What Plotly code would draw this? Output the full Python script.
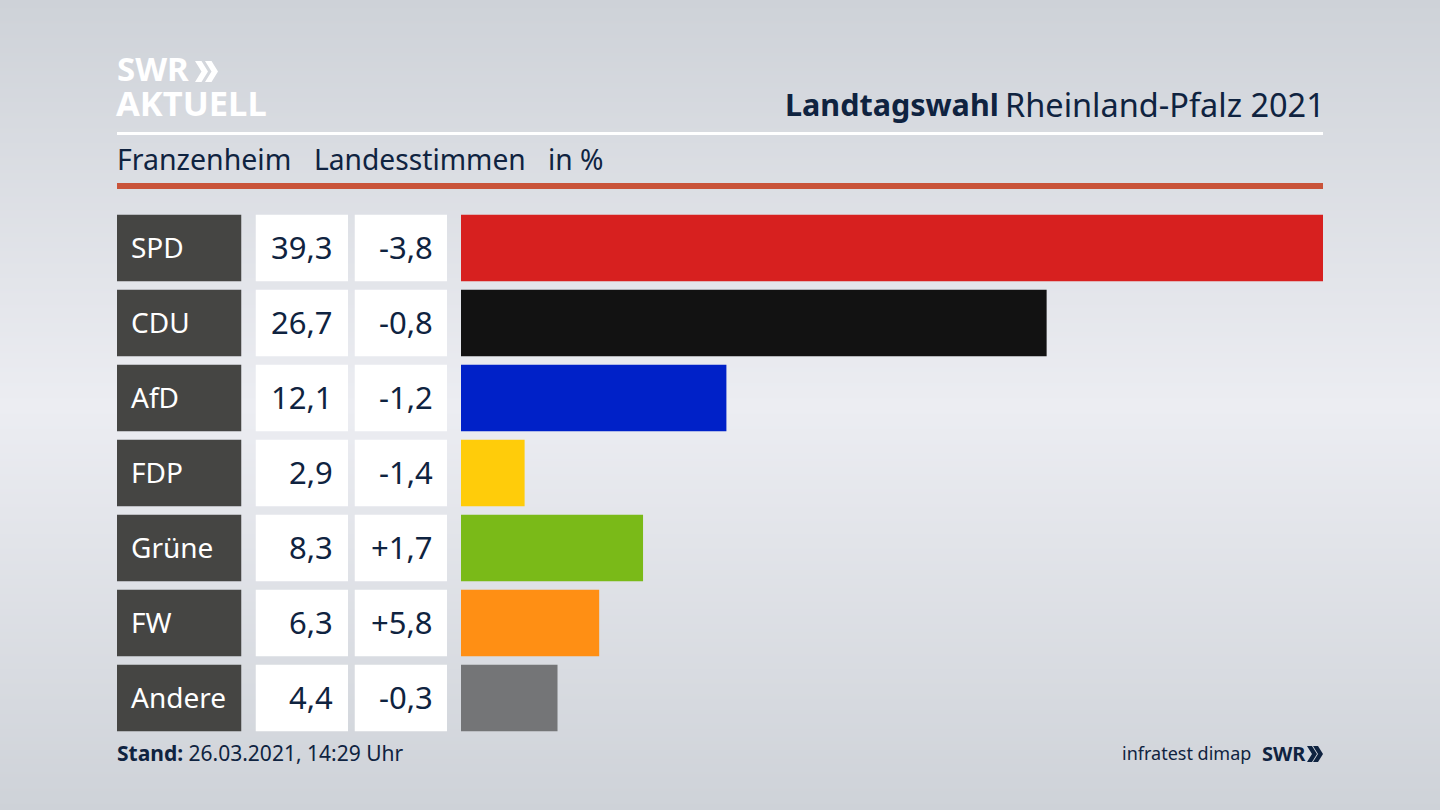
import plotly.graph_objects as go

WIDTH = 1440
HEIGHT = 810
TEXT_COLOR = "#0f2340"
FONT = "Noto Sans"

parties = ["SPD", "CDU", "AfD", "FDP", "Grüne", "FW", "Andere"]
shares = [39.3, 26.7, 12.1, 2.9, 8.3, 6.3, 4.4]
changes = [-3.8, -0.8, -1.2, -1.4, 1.7, 5.8, -0.3]
bar_colors = ["#d7201f", "#121212", "#0021c8", "#ffcc0a", "#7aba18", "#ff8f14", "#747577"]

# vertical backdrop: dark at the edges, bright around the middle
backdrop = [[0, 0], [1, 1], [0, 0]]


def px_x(x):
    return x / WIDTH


def px_y(y):
    return 1 - y / HEIGHT


def comma(value, signed=False):
    text = f"{value:+.1f}" if signed else f"{value:.1f}"
    return text.replace(".", ",")


fig = go.Figure()

# background sits on the first axis pair so everything else draws over it
fig.add_trace(go.Heatmap(
    z=backdrop,
    zsmooth="best",
    colorscale=[[0, "#ced2d8"], [1, "#ecedf2"]],
    zmin=0,
    zmax=1,
    showscale=False,
    hoverinfo="skip",
    xaxis="x",
    yaxis="y",
))

# label column, two number columns, then the result bars
fig.add_trace(go.Bar(y=parties, x=[1] * 7, orientation="h", width=0.887,
                     marker=dict(color="#454543", line_width=0), xaxis="x2", yaxis="y2", hoverinfo="skip"))
fig.add_trace(go.Bar(y=parties, x=[1] * 7, orientation="h", width=0.887,
                     marker=dict(color="#ffffff", line_width=0), xaxis="x3", yaxis="y2", hoverinfo="skip"))
fig.add_trace(go.Bar(y=parties, x=[1] * 7, orientation="h", width=0.887,
                     marker=dict(color="#ffffff", line_width=0), xaxis="x4", yaxis="y2", hoverinfo="skip"))
fig.add_trace(go.Bar(y=parties, x=shares, orientation="h", width=0.887,
                     marker=dict(color=bar_colors, line_width=0), xaxis="x5", yaxis="y2"))

hidden = dict(visible=False, fixedrange=True)
fig.update_layout(
    width=WIDTH,
    height=HEIGHT,
    autosize=False,
    margin=dict(l=0, r=0, t=0, b=0),
    paper_bgcolor="#dfe1e6",
    plot_bgcolor="rgba(0,0,0,0)",
    showlegend=False,
    font=dict(family=FONT, color=TEXT_COLOR),
    xaxis=dict(domain=[0, 1], range=[0, 1], **hidden),
    yaxis=dict(domain=[0, 1], range=[2, 0], **hidden),
    xaxis2=dict(domain=[px_x(117), px_x(241.5)], range=[0, 1], anchor="y2", **hidden),
    xaxis3=dict(domain=[px_x(255.5), px_x(348)], range=[0, 1], anchor="y2", **hidden),
    xaxis4=dict(domain=[px_x(354.5), px_x(447)], range=[0, 1], anchor="y2", **hidden),
    xaxis5=dict(domain=[px_x(461), px_x(1323)], range=[0, shares[0]], anchor="y2", **hidden),
    yaxis2=dict(
        domain=[px_y(735.5), px_y(210.5)],
        categoryorder="array",
        categoryarray=parties,
        autorange="reversed",
        **hidden,
    ),
)

for party, share, change in zip(parties, shares, changes):
    fig.add_annotation(text=party, x=0, xref="x2", xshift=12, y=party, yref="y2", yshift=1, xanchor="left",
                       showarrow=False, font=dict(size=28, color="#ffffff"))
    fig.add_annotation(text=comma(share), x=1, xref="x3", xshift=-13, y=party, yref="y2", yshift=1,
                       xanchor="right", showarrow=False, font=dict(size=31))
    fig.add_annotation(text=comma(change, signed=True), x=1, xref="x4", xshift=-12, y=party, yref="y2", yshift=1,
                       xanchor="right", showarrow=False, font=dict(size=31))


def page_text(text, x, y, size, anchor="left", color=TEXT_COLOR):
    shift = -2 if anchor == "left" else 4
    fig.add_annotation(text=text, x=px_x(x), y=px_y(y), xref="paper", yref="paper", xanchor=anchor, xshift=shift,
                       yanchor="middle", showarrow=False, font=dict(size=size, color=color))


def chevrons(x, y0, y1, width, step, thick, color):
    # the two arrow heads of the SWR logo
    for left in (x, x + step):
        mid = (y0 + y1) / 2
        points = [(left, y0), (left + thick, y0), (left + width, mid), (left + thick, y1), (left, y1),
                  (left + width - thick, mid)]
        path = "M" + " L".join(f"{px_x(a):.5f},{px_y(b):.5f}" for a, b in points) + " Z"
        fig.add_shape(type="path", xref="paper", yref="paper", path=path, fillcolor=color, line_width=0,
                      layer="above")


page_text("<b>SWR</b>", 117, 69, 33, color="#ffffff")
page_text("<b>AKTUELL</b>", 116, 103, 34.5, color="#ffffff")
page_text("<b>Landtagswahl</b>", 785, 104, 30.5)
page_text("Rheinland-Pfalz 2021", 1323, 104, 32.5, anchor="right")
page_text("Franzenheim", 117, 159, 28.5)
page_text("Landesstimmen", 314, 159, 28.2)
page_text("in %", 548, 159, 28.2)
page_text("<b>Stand:</b> 26.03.2021, 14:29 Uhr", 117, 753, 21)
page_text("infratest dimap", 1249, 753, 18, anchor="right")
page_text("<b>SWR</b>", 1304, 753, 20, anchor="right")

chevrons(195, 61, 82, 13, 10, 6.5, "#ffffff")
chevrons(1307, 746, 762, 10, 6, 5, TEXT_COLOR)

fig.add_shape(type="rect", xref="paper", yref="paper", x0=px_x(117), x1=px_x(1323), y0=px_y(135), y1=px_y(132),
              fillcolor="#ffffff", line_width=0, layer="above")
fig.add_shape(type="rect", xref="paper", yref="paper", x0=px_x(117), x1=px_x(1323), y0=px_y(189), y1=px_y(183),
              fillcolor="#c9533a", line_width=0, layer="above")

# the page's default body margin would push the chart 8px off
fig.write_html(
    "out.html",
    config={"displayModeBar": False},
    post_script="document.body.style.margin = '0'; document.body.style.overflow = 'hidden';",
)
